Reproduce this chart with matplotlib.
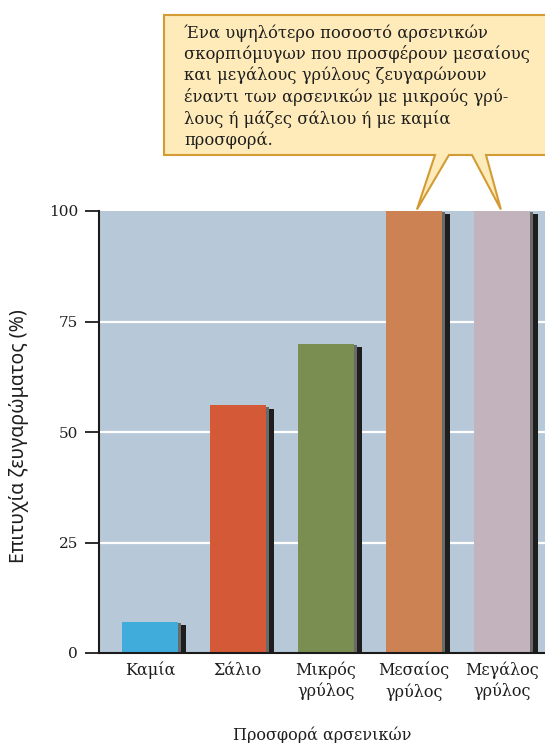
import matplotlib
matplotlib.use("Agg")
import matplotlib.pyplot as plt
from matplotlib.patches import Polygon, Rectangle
import numpy as np

# Mating success of males by the nuptial gift they offer
categories = ["Καμία", "Σάλιο", "Μικρός\nγρύλος", "Μεσαίος\nγρύλος", "Μεγάλος\nγρύλος"]
success = [7, 56, 70, 100, 100]
bar_colors = ["#3facdc", "#d45a37", "#7b8e51", "#cc8253", "#c3b3bc"]
yticks = [0, 25, 50, 75, 100]
ylabel = "Επιτυχία ζευγαρώματος (%)"
xlabel = "Προσφορά αρσενικών"
callout = ("Ένα υψηλότερο ποσοστό αρσενικών\n"
           "σκορπιόμυγων που προσφέρουν μεσαίους\n"
           "και μεγάλους γρύλους ζευγαρώνουν\n"
           "έναντι των αρσενικών με μικρούς γρύ-\n"
           "λους ή μάζες σάλιου ή με καμία\n"
           "προσφορά.")

W, H = 545, 743
fig = plt.figure(figsize=(W / 100, H / 100), dpi=100)
ax = fig.add_axes([99 / W, 1 - 653 / H, 1 - 99 / W, (653 - 211) / H])

bg = "#b7c9d9"
ax.set_facecolor(bg)
x = np.arange(len(categories))
width = 0.636
ax.set_xlim(-0.58, 4.49)
ax.set_ylim(0, 100)

for yy in yticks[1:-1]:
    ax.axhline(yy, color="white", lw=1.6, zorder=1)

# drop shadows on the right side of each bar
sh_w = 0.095
for xi, v in zip(x, success):
    right = xi + width / 2
    ax.add_patch(Rectangle((right, 0), sh_w, v - 0.7, color="#1e1e1e", zorder=2, lw=0))
    ax.add_patch(Rectangle((right, 0), 0.035, v - 0.3, color="#6a6a6a", zorder=2.5, lw=0))

ax.bar(x, success, width=width, color=bar_colors, zorder=3, linewidth=0)

ax.set_xticks(x)
ax.set_xticklabels(categories, family="DejaVu Serif", fontsize=11.5, linespacing=1.3,
                   color="#1e1e1e")
ax.tick_params(axis="x", length=0, pad=6)
ax.set_yticks(yticks)
ax.set_yticklabels([str(t) for t in yticks], family="DejaVu Serif", fontsize=11,
                   color="#1e1e1e")
ax.tick_params(axis="y", length=10, width=1.3, pad=5, color="#1e1e1e")

for s in ["top", "right"]:
    ax.spines[s].set_visible(False)
for s in ["left", "bottom"]:
    ax.spines[s].set_linewidth(1.5)
    ax.spines[s].set_color("#1a1a1a")
    ax.spines[s].set_zorder(5)

ax.set_ylabel(ylabel, family="Noto Sans", fontsize=14, color="#1e1e1e")
ax.yaxis.set_label_coords(-0.158, 0.49)
ax.set_xlabel(xlabel, family="DejaVu Serif", fontsize=11.5, color="#1e1e1e")
ax.xaxis.set_label_coords(0.5, -0.167)

# speech-bubble callout pointing at the two largest-gift bars
fig.canvas.draw()
to_disp = ax.transData.transform
tip_a = to_disp((x[3], success[3]))
tip_b = to_disp((x[4], success[4]))
top_y = H - 15
bot_y = H - 155
left_x = 164
right_x = 600
pts = [
    (left_x, top_y), (right_x, top_y), (right_x, bot_y),
    (486, bot_y), (tip_b[0] - 1, tip_b[1] + 1.5), (472, bot_y),
    (449, bot_y), (tip_a[0] + 3, tip_a[1] + 1.5), (435, bot_y),
    (left_x, bot_y),
]
fig.patches.append(Polygon(pts, closed=True, transform=None, facecolor="#feebb9",
                           edgecolor="#d39b34", linewidth=1.5, zorder=10))
fig.text(184 / W, 1 - 24 / H, callout, family="DejaVu Serif", fontsize=11.8,
         va="top", ha="left", linespacing=1.27, color="#1e1e1e", zorder=11)

fig.savefig("out.png", dpi=100)
